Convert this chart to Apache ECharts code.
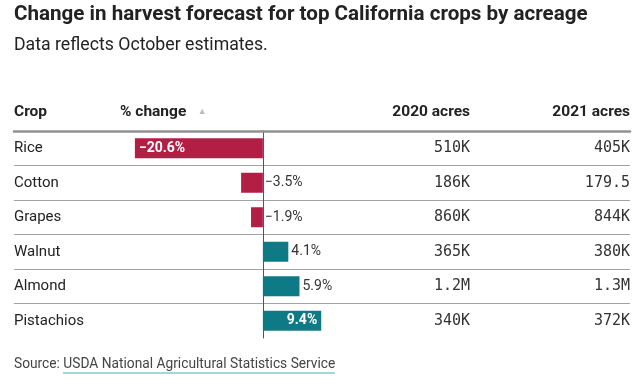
<!DOCTYPE html>
<html>
<head>
<meta charset="utf-8">
<script src="https://cdn.jsdelivr.net/npm/echarts@6/dist/echarts.min.js"></script>
<style>html,body{margin:0;padding:0;background:#fff}#c{width:644px;height:388px}</style>
</head>
<body>
<div id="c"></div>
<script>
const crops = ['Rice', 'Cotton', 'Grapes', 'Walnut', 'Almond', 'Pistachios'];
const pctChange = [-20.6, -3.5, -1.9, 4.1, 5.9, 9.4];
const acres2020 = ['510K', '186K', '860K', '365K', '1.2M', '340K'];
const acres2021 = ['405K', '179.5', '844K', '380K', '1.3M', '372K'];
const headers = ['Crop', '% change', '2020 acres', '2021 acres'];
const titleText = 'Change in harvest forecast for top California crops by acreage';
const subtitleText = 'Data reflects October estimates.';
const sourceLabel = 'Source: ';
const sourceName = 'USDA National Agricultural Statistics Service';

const RED = '#B21E44';
const TEAL = '#0E7A86';
const body = "'Roboto', 'Noto Sans', sans-serif";
const mono = "'DejaVu Sans Mono', 'Liberation Mono', monospace";

const fmt = v => (v < 0 ? '\u2212' + Math.abs(v).toFixed(1) : v.toFixed(1)) + '%';

const minV = Math.min(...pctChange);
const maxV = Math.max(...pctChange);
const barData = pctChange.map(v => {
  let label;
  if (v === minV) {
    label = { position: 'insideLeft', distance: 4, color: '#fff', fontWeight: 'bold' };
  } else if (v === maxV) {
    label = { position: 'insideRight', distance: 4, color: '#fff', fontWeight: 'bold' };
  } else {
    label = { position: 'right', distance: v < 0 ? 2 : 3, color: '#333' };
  }
  return { value: v, itemStyle: { color: v < 0 ? RED : TEAL }, label };
});

const chart = echarts.init(document.getElementById('c'), null, { renderer: 'canvas' });
const sepColors = ['rgba(0,0,0,0)', '#a3a3a3', '#a3a3a3', '#a3a3a3', '#a3a3a3', '#a3a3a3', 'rgba(0,0,0,0)'];
const hdrStyle = { fontSize: 15.5, fontWeight: 'bold', color: '#222', fontFamily: body };

chart.setOption({
  animation: false,
  backgroundColor: '#fff',
  title: [
    { text: titleText, left: 14, top: 4, padding: 0,
      textStyle: { fontSize: 20.6, fontWeight: 'bold', color: '#222', fontFamily: body } },
    { text: subtitleText, left: 14, top: 37, padding: 0,
      textStyle: { fontSize: 17.7, fontWeight: 'normal', color: '#222', fontFamily: body } },
    { text: headers[0], left: 14, top: 104, padding: 0, textStyle: hdrStyle },
    { text: headers[1] + '   {tri|\u25B2}', left: 120, top: 104, padding: 0,
      textStyle: Object.assign({}, hdrStyle, {
        rich: { tri: { fontSize: 9, color: '#bbb', fontFamily: body } } }) },
    { text: headers[2], right: 174, top: 104, padding: 0, textStyle: hdrStyle },
    { text: headers[3], right: 14, top: 104, padding: 0, textStyle: hdrStyle },
    { text: sourceLabel + '{u|' + sourceName + '}', left: 14, top: 358, padding: 0,
      textStyle: { fontSize: 13.75, fontWeight: 'normal', color: '#444', fontFamily: body,
        rich: { u: { fontSize: 13.75, color: '#444', fontFamily: body } } } }
  ],
  graphic: [
    { type: 'line', shape: { x1: 63, y1: 373, x2: 335, y2: 373 },
      style: { stroke: '#4aabb8', lineWidth: 1 } }
  ],
  grid: [
    { left: 120, width: 279.5, top: 131, height: 207 },
    { left: 14, right: 14, top: 131, height: 207 },
    { left: 14, right: 174, top: 131, height: 207 }
  ],
  xAxis: [
    { gridIndex: 0, type: 'value', min: -23, max: 22, show: false },
    { gridIndex: 1, type: 'value', min: 0, max: 1, position: 'top',
      axisLine: { show: true, onZero: false, lineStyle: { color: '#919191', width: 2.5 } },
      axisTick: { show: false }, axisLabel: { show: false }, splitLine: { show: false } },
    { gridIndex: 2, type: 'value', min: 0, max: 1, show: false }
  ],
  yAxis: [
    { gridIndex: 0, type: 'category', data: crops, inverse: true,
      axisLine: { show: true, onZero: true, lineStyle: { color: '#555', width: 1 } },
      axisTick: { show: false }, axisLabel: { show: false }, splitLine: { show: false } },
    { gridIndex: 1, type: 'category', data: crops, inverse: true, position: 'left',
      axisLine: { show: false }, axisTick: { show: false },
      axisLabel: { inside: true, margin: 0, fontSize: 15, color: '#222', fontFamily: body },
      splitLine: { show: true, lineStyle: { color: sepColors, width: 1 } } },
    { gridIndex: 1, type: 'category', data: acres2021, inverse: true, position: 'right',
      axisLine: { show: false }, axisTick: { show: false },
      axisLabel: { inside: true, margin: 0, fontSize: 15, color: '#333', fontFamily: mono },
      splitLine: { show: false } },
    { gridIndex: 2, type: 'category', data: acres2020, inverse: true, position: 'right',
      axisLine: { show: false }, axisTick: { show: false },
      axisLabel: { inside: true, margin: 0, fontSize: 15, color: '#333', fontFamily: mono },
      splitLine: { show: false } }
  ],
  series: [
    { type: 'bar', xAxisIndex: 0, yAxisIndex: 0, barWidth: 20, data: barData,
      label: { show: true, fontSize: 14, fontFamily: body, formatter: p => fmt(p.value) } }
  ]
});
</script>
</body>
</html>
